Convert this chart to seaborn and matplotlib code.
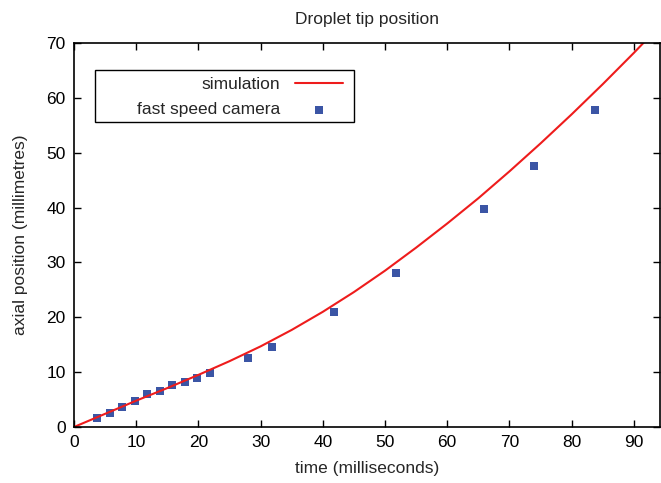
import numpy as np
import pandas as pd
import seaborn as sns
import matplotlib.pyplot as plt
from matplotlib.patches import Rectangle

# simulated tip position (every 5 ms)
sim_time = [0, 5, 10, 15, 20, 25, 30, 35, 40, 45, 50, 55, 60, 65, 70, 75, 80, 85, 90, 95]
sim_pos = [0, 2.4, 4.8, 7.1, 9.5, 12.0, 14.7, 17.7, 21.0, 24.6, 28.5, 32.7,
           37.1, 41.7, 46.6, 51.7, 57.0, 62.5, 68.2, 74.1]

# fast speed camera measurements
cam_time = [3.7, 5.8, 7.7, 9.8, 11.8, 13.9, 15.8, 17.9, 19.8, 21.8,
            27.9, 31.9, 41.8, 51.8, 65.9, 73.9, 83.8]
cam_pos = [1.6, 2.6, 3.6, 4.7, 6.0, 6.6, 7.7, 8.2, 8.9, 9.8,
           12.6, 14.6, 20.9, 28.1, 39.8, 47.5, 57.8]

sim_df = pd.DataFrame({'time': sim_time, 'pos': sim_pos})
cam_df = pd.DataFrame({'time': cam_time, 'pos': cam_pos})

sns.set_style('ticks')
plt.rcParams['font.family'] = ['Liberation Sans', 'DejaVu Sans']
fs = 12.5
W, H = 661, 483

fig = plt.figure(figsize=(6.61, 4.83), dpi=100)
ax = fig.add_axes([74 / W, 56 / H, (660 - 74) / W, (427 - 43) / H])

sns.lineplot(data=sim_df, x='time', y='pos', ax=ax, color='#ee1c1c',
             linewidth=1.5, label='simulation')
sns.scatterplot(data=cam_df, x='time', y='pos', ax=ax, color='#3b55a5',
                marker='s', s=32, linewidth=0, label='fast speed camera')

ax.set_xlim(0, 94.2)
ax.set_ylim(0, 70)
ax.set_xticks(np.arange(0, 100, 10))
ax.set_yticks(np.arange(0, 80, 10))
ax.tick_params(direction='in', top=True, right=True, length=5, width=1,
               labelsize=fs, colors='black', pad=6)
for sp in ax.spines.values():
    sp.set_color('black')
    sp.set_linewidth(1.2)

ax.set_xlabel('time (milliseconds)', fontsize=fs, labelpad=8)
ax.set_ylabel('axial position (millimetres)', fontsize=fs, labelpad=13)
ax.set_title('Droplet tip position', fontsize=fs, pad=14)

# gnuplot style key: labels right-aligned, sample on the right, wide box
leg = ax.legend(loc='upper right', bbox_to_anchor=(343 / W, 1 - 77 / H),
                bbox_transform=fig.transFigure, markerfirst=False,
                frameon=False, handlelength=2.76, handletextpad=0.86,
                borderpad=0, labelspacing=0.58, fontsize=fs, borderaxespad=0)
fig.patches.append(Rectangle((95 / W, 1 - 122 / H), 259 / W, 52 / H,
                             transform=fig.transFigure, fill=False,
                             edgecolor='black', linewidth=1.0))

fig.savefig('out.png', dpi=100)
